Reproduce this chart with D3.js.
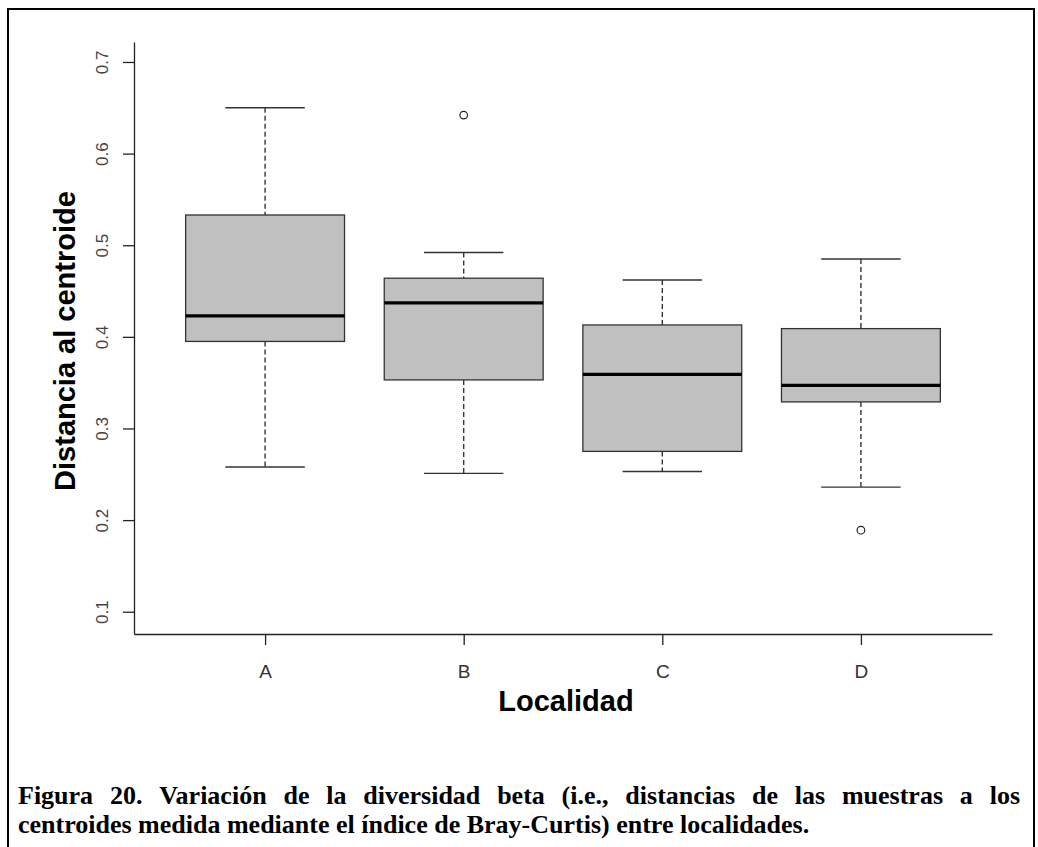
<!DOCTYPE html>
<html>
<head>
<meta charset="utf-8">
<script src="https://cdn.jsdelivr.net/npm/d3@7"></script>
<style>
  body { margin: 0; background: #fff; }
  svg { display: block; }
</style>
</head>
<body>
<div id="chart"></div>
<script>
// values
var categories = ["A", "B", "C", "D"];
var lowerWhisker = [0.258, 0.251, 0.253, 0.236];
var q1 = [0.395, 0.353, 0.275, 0.329];
var median = [0.423, 0.437, 0.359, 0.347];
var q3 = [0.533, 0.464, 0.413, 0.409];
var upperWhisker = [0.650, 0.492, 0.462, 0.485];
var outliers = [[], [0.642], [], [0.189]];
var yTicks = [0.1, 0.2, 0.3, 0.4, 0.5, 0.6, 0.7];

var captionLine1 = "Figura 20. Variación de la diversidad beta (i.e., distancias de las muestras a los";
var captionLine2 = "centroides medida mediante el índice de Bray-Curtis) entre localidades.";

var W = 1038, H = 847;
var sans = "'Liberation Sans', Arial, sans-serif";

var svg = d3.select("#chart")
            .append("svg")
            .attr("width", W)
            .attr("height", H);

// frame around the figure (bottom edge is cut off)
svg.append("rect")
   .attr("x", 8)
   .attr("y", 9)
   .attr("width", 1026)
   .attr("height", 900)
   .attr("fill", "none")
   .attr("stroke", "#000")
   .attr("stroke-width", 2);

var x = d3.scaleLinear().domain([0.34, 4.66]).range([134, 992]);
var y = d3.scaleLinear().domain([0.0757, 0.7218]).range([634, 42]);
var unit = x(1) - x(0);

// y axis
var yAxis = svg.append("g")
   .attr("transform", "translate(134,0)")
   .call(d3.axisLeft(y).tickValues(yTicks).tickSize(11).tickSizeOuter(0).tickFormat(d3.format(".1f")));
yAxis.select(".domain").attr("stroke", "#222").attr("stroke-width", 1.3);
yAxis.selectAll(".tick line").attr("stroke", "#222").attr("stroke-width", 1.3);
yAxis.selectAll(".tick text")
     .attr("transform", "rotate(-90)")
     .attr("x", 0)
     .attr("y", -26)
     .attr("dy", 0)
     .attr("text-anchor", "middle")
     .attr("fill", "#444")
     .style("font-family", sans)
     .style("font-size", "17px");

// x axis
var xAxis = svg.append("g")
   .attr("transform", "translate(0,634)")
   .call(d3.axisBottom(x).tickValues([1, 2, 3, 4]).tickSize(11).tickSizeOuter(0)
           .tickFormat(function(d) { return categories[d - 1]; }));
xAxis.select(".domain").attr("stroke", "#222").attr("stroke-width", 1.3);
xAxis.selectAll(".tick line").attr("stroke", "#222").attr("stroke-width", 1.3);
xAxis.selectAll(".tick text")
     .attr("y", 44)
     .attr("dy", 0)
     .attr("fill", "#333")
     .style("font-family", sans)
     .style("font-size", "19px");

// boxes
var boxes = svg.selectAll("g.box")
   .data(categories)
   .enter()
   .append("g")
   .attr("class", "box");

boxes.append("line")
     .attr("x1", function(d, i) { return x(i + 1); })
     .attr("x2", function(d, i) { return x(i + 1); })
     .attr("y1", function(d, i) { return y(upperWhisker[i]); })
     .attr("y2", function(d, i) { return y(q3[i]); })
     .attr("stroke", "#333").attr("stroke-width", 1.4).attr("stroke-dasharray", "5,3");
boxes.append("line")
     .attr("x1", function(d, i) { return x(i + 1); })
     .attr("x2", function(d, i) { return x(i + 1); })
     .attr("y1", function(d, i) { return y(q1[i]); })
     .attr("y2", function(d, i) { return y(lowerWhisker[i]); })
     .attr("stroke", "#333").attr("stroke-width", 1.4).attr("stroke-dasharray", "5,3");

[upperWhisker, lowerWhisker].forEach(function(arr) {
    boxes.append("line")
         .attr("x1", function(d, i) { return x(i + 1 - 0.2); })
         .attr("x2", function(d, i) { return x(i + 1 + 0.2); })
         .attr("y1", function(d, i) { return y(arr[i]); })
         .attr("y2", function(d, i) { return y(arr[i]); })
         .attr("stroke", "#333").attr("stroke-width", 1.4);
});

boxes.append("rect")
     .attr("x", function(d, i) { return x(i + 1 - 0.4); })
     .attr("width", 0.8 * unit)
     .attr("y", function(d, i) { return y(q3[i]); })
     .attr("height", function(d, i) { return y(q1[i]) - y(q3[i]); })
     .attr("fill", "#c0c0c0")
     .attr("stroke", "#333")
     .attr("stroke-width", 1.3);

boxes.append("line")
     .attr("x1", function(d, i) { return x(i + 1 - 0.4); })
     .attr("x2", function(d, i) { return x(i + 1 + 0.4); })
     .attr("y1", function(d, i) { return y(median[i]); })
     .attr("y2", function(d, i) { return y(median[i]); })
     .attr("stroke", "#000").attr("stroke-width", 3.2);

boxes.each(function(d, i) {
    d3.select(this).selectAll("circle")
      .data(outliers[i])
      .enter()
      .append("circle")
      .attr("cx", x(i + 1))
      .attr("cy", function(v) { return y(v); })
      .attr("r", 3.8)
      .attr("fill", "none")
      .attr("stroke", "#222")
      .attr("stroke-width", 1.2);
});

// axis titles
svg.append("text")
   .attr("transform", "translate(75,341) rotate(-90)")
   .attr("text-anchor", "middle")
   .style("font-family", sans)
   .style("font-size", "29px")
   .style("font-weight", "bold")
   .text("Distancia al centroide");

svg.append("text")
   .attr("x", 566)
   .attr("y", 711)
   .attr("text-anchor", "middle")
   .style("font-family", sans)
   .style("font-size", "29px")
   .style("font-weight", "bold")
   .text("Localidad");

// caption, first line justified
var serif = "'Liberation Serif', 'Times New Roman', serif";
var capLeft = 18, capRight = 1020;

function captionText(yPos) {
    return svg.append("text")
              .attr("y", yPos)
              .style("font-family", serif)
              .style("font-size", "26px")
              .style("font-weight", "bold")
              .attr("fill", "#000");
}

var words = captionLine1.split(" ");
var t1 = captionText(804);
var spans = words.map(function(w) { return t1.append("tspan").text(w); });
var widths = spans.map(function(s) { return s.node().getComputedTextLength(); });
var gap = (capRight - capLeft - d3.sum(widths)) / (words.length - 1);
var cx = capLeft;
spans.forEach(function(s, i) {
    s.attr("x", cx);
    cx += widths[i] + gap;
});

captionText(833).attr("x", capLeft).text(captionLine2);
</script>
</body>
</html>
